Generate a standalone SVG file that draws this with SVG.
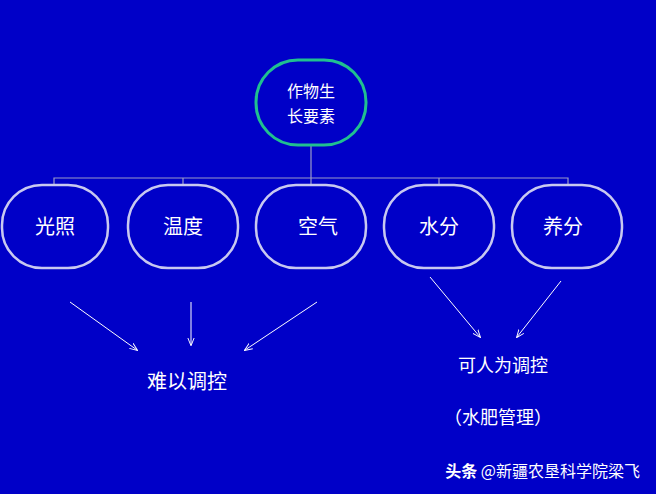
<svg xmlns="http://www.w3.org/2000/svg" width="656" height="494" viewBox="0 0 656 494">
<defs>
<style>
.n{fill:none;stroke:#c8c8f0;stroke-width:2.5}
.t{font-family:"Noto Sans CJK SC",sans-serif;fill:#fff;font-size:20px;text-anchor:middle}
.c{stroke:#9a9ac8;stroke-width:1.2;fill:none}
.a{stroke:#fff;stroke-width:1;fill:none;marker-end:url(#ah)}
</style>
<marker id="ah" viewBox="0 0 10 10" refX="9" refY="5" markerWidth="8" markerHeight="8" orient="auto"><path d="M0,1 L10,5 L0,9" fill="none" stroke="#fff" stroke-width="1.2"/></marker>
</defs>
<rect width="656" height="494" fill="#0000c8"/>
<g id="connectors">
<path class="c" d="M311,145 V178 M54,185 V178 H568 V185 M183,178 V185 M311,178 V185 M439,178 V185"/>
<path class="a" d="M70,302 L137,350"/>
<path class="a" d="M191,302 L191,345"/>
<path class="a" d="M317,302 L245,350"/>
<path class="a" d="M430,277 L480,337"/>
<path class="a" d="M561,281 L517,337"/>
</g>
<g id="root"><rect x="256" y="60" width="110" height="85" rx="42" fill="none" stroke="#20c090" stroke-width="3"/>
<text class="t" x="311" y="97" style="font-size:16px">作物生</text><text class="t" x="311" y="122" style="font-size:16px">长要素</text></g>
<g id="n1"><rect class="n" x="2" y="185" width="106" height="83" rx="40"/><text class="t" x="55" y="234">光照</text></g>
<g id="n2"><rect class="n" x="128" y="185" width="110" height="83" rx="40"/><text class="t" x="183" y="234">温度</text></g>
<g id="n3"><rect class="n" x="256" y="185" width="110" height="83" rx="40"/><text class="t" x="318" y="234">空气</text></g>
<g id="n4"><rect class="n" x="384" y="185" width="110" height="83" rx="40"/><text class="t" x="439" y="234">水分</text></g>
<g id="n5"><rect class="n" x="512" y="185" width="110" height="83" rx="40"/><text class="t" x="563" y="234">养分</text></g>
<text class="t" x="187" y="389">难以调控</text>
<text class="t" x="503" y="372" style="font-size:18px">可人为调控</text>
<text class="t" x="498" y="424" style="font-size:18px">（水肥管理）</text>
<text x="640" y="477" style="font-family:'Noto Sans CJK SC',sans-serif;font-size:16px;fill:#fff;text-anchor:end"><tspan font-weight="bold">头条</tspan> @新疆农垦科学院梁飞</text>
</svg>
